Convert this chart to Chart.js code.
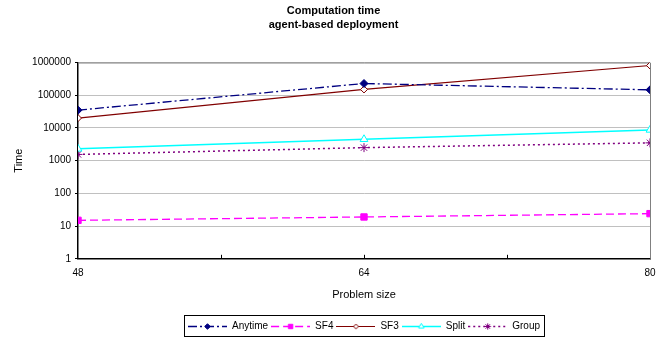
<!DOCTYPE html>
<html>
<head>
<meta charset="utf-8">
<script src="https://cdn.jsdelivr.net/npm/chart.js@4.4.1/dist/chart.umd.min.js"></script>
<style>
  html, body { margin: 0; padding: 0; background: #fff; }
  #wrap { width: 667px; height: 341px; }
</style>
</head>
<body>
<div id="wrap"><canvas id="chart"></canvas></div>
<script>
// chart data
const problemSizes = [48, 64, 80];
const anytimeTimes = [35000, 228000, 146000];
const sf4Times = [15, 19, 24];
const sf3Times = [20000, 150000, 810000];
const splitTimes = [2300, 4500, 8700];
const groupTimes = [1550, 2500, 3500];
const yTickValues = [1, 10, 100, 1000, 10000, 100000, 1000000];
const xTickLabels = [48, 64, 80];
const xMinorTicks = [56, 64, 72];

const FONT = 'Liberation Sans, Arial, sans-serif';
const SWATCH_W = 39;

function points(values) {
  return problemSizes.map((x, i) => ({ x: x, y: values[i] }));
}

// small canvas with line sample + marker for the legend
function legendSwatch(ds) {
  const c = document.createElement('canvas');
  c.width = SWATCH_W;
  c.height = 10;
  const ctx = c.getContext('2d');
  ctx.strokeStyle = ds.borderColor;
  ctx.lineWidth = ds.borderWidth;
  ctx.setLineDash(ds.borderDash || []);
  ctx.beginPath();
  ctx.moveTo(0, 5.5);
  ctx.lineTo(SWATCH_W, 5.5);
  ctx.stroke();
  ctx.setLineDash([]);
  ctx.fillStyle = ds.pointBackgroundColor;
  ctx.strokeStyle = ds.pointBorderColor;
  ctx.lineWidth = 1;
  Chart.helpers.drawPoint(ctx, {
    pointStyle: ds.pointStyle,
    radius: ds.pointRadius * 0.7,
    rotation: 0,
    borderWidth: 1
  }, SWATCH_W / 2, 5.5);
  return c;
}

const plotFrame = {
  id: 'plotFrame',
  beforeDatasetsDraw(chart) {
    const { ctx, chartArea: a, scales } = chart;
    ctx.save();
    // top and right border of plot area
    ctx.strokeStyle = '#808080';
    ctx.lineWidth = 1;
    ctx.beginPath();
    ctx.moveTo(a.left, a.top + 0.5);
    ctx.lineTo(a.right + 0.5, a.top + 0.5);
    ctx.lineTo(a.right + 0.5, a.bottom);
    ctx.stroke();
    // inward tick marks on the x axis
    ctx.strokeStyle = '#000';
    ctx.beginPath();
    xMinorTicks.forEach(v => {
      const px = Math.round(scales.x.getPixelForValue(v)) + 0.5;
      ctx.moveTo(px, a.bottom);
      ctx.lineTo(px, a.bottom - 4);
    });
    ctx.stroke();
    ctx.restore();
  },
  afterDraw(chart) {
    const boxes = chart.legend.legendHitBoxes;
    if (!boxes || !boxes.length) return;
    const ctx = chart.ctx;
    let l = Infinity, r = -Infinity, t = Infinity, b = -Infinity;
    boxes.forEach(h => {
      l = Math.min(l, h.left); r = Math.max(r, h.left + h.width);
      t = Math.min(t, h.top); b = Math.max(b, h.top + h.height);
    });
    ctx.save();
    ctx.strokeStyle = '#000';
    ctx.lineWidth = 1;
    ctx.strokeRect(Math.round(l) - 3.5, Math.round(t) - 5.5, Math.round(r - l) + 8, Math.round(b - t) + 11);
    ctx.restore();
  }
};

const datasets = [
  {
    label: 'Anytime', data: points(anytimeTimes),
    borderColor: '#000080', borderWidth: 1.3, borderDash: [9, 3, 2, 3],
    pointStyle: 'rectRot', pointRadius: 4,
    pointBackgroundColor: '#000080', pointBorderColor: '#000080'
  },
  {
    label: 'SF4', data: points(sf4Times),
    borderColor: '#ff00ff', borderWidth: 1.3, borderDash: [8, 4],
    pointStyle: 'rect', pointRadius: 4.5,
    pointBackgroundColor: '#ff00ff', pointBorderColor: '#ff00ff'
  },
  {
    label: 'SF3', data: points(sf3Times),
    borderColor: '#800000', borderWidth: 1.2,
    pointStyle: 'rectRot', pointRadius: 3.5,
    pointBackgroundColor: '#ffffff', pointBorderColor: '#800000'
  },
  {
    label: 'Split', data: points(splitTimes),
    borderColor: '#00ffff', borderWidth: 1.5,
    pointStyle: 'triangle', pointRadius: 4.5,
    pointBackgroundColor: '#ffffff', pointBorderColor: '#00ffff'
  },
  {
    label: 'Group', data: points(groupTimes),
    borderColor: '#800080', borderWidth: 1.5, borderDash: [2, 3],
    pointStyle: 'star', pointRadius: 4.5,
    pointBackgroundColor: '#800080', pointBorderColor: '#800080'
  }
];

new Chart(document.getElementById('chart'), {
  type: 'line',
  data: { datasets: datasets },
  plugins: [plotFrame],
  options: {
    responsive: true,
    maintainAspectRatio: false,
    animation: false,
    layout: { padding: { left: 17, right: 17, top: 0, bottom: 0 } },
    elements: { line: { tension: 0, fill: false }, point: { pointBorderWidth: 1 } },
    plugins: {
      tooltip: { enabled: false },
      title: {
        display: true,
        text: ['Computation time', 'agent-based deployment'],
        color: '#000',
        font: { family: FONT, size: 11, weight: 'bold', lineHeight: 1.25 },
        padding: { top: 4, bottom: 31 }
      },
      legend: {
        position: 'bottom',
        fullSize: false,
        labels: {
          color: '#000',
          font: { family: FONT, size: 10 },
          usePointStyle: true,
          pointStyleWidth: SWATCH_W,
          boxHeight: 10,
          padding: 3,
          generateLabels(chart) {
            return chart.data.datasets.map((ds, i) => ({
              text: ds.label,
              pointStyle: legendSwatch(ds),
              datasetIndex: i,
              fontColor: '#000',
              lineWidth: 0,
              strokeStyle: 'transparent',
              fillStyle: 'transparent'
            }));
          }
        }
      }
    },
    scales: {
      x: {
        type: 'linear',
        min: 48, max: 80,
        afterBuildTicks(scale) { scale.ticks = xTickLabels.map(v => ({ value: v })); },
        ticks: {
          color: '#000', font: { family: FONT, size: 10 }, padding: 8,
          maxRotation: 0, autoSkip: false
        },
        grid: { display: false, drawTicks: false },
        border: { color: '#000', width: 1.5 },
        title: {
          display: true, text: 'Problem size', color: '#000',
          font: { family: FONT, size: 11 }, padding: { top: 2, bottom: 16 }
        }
      },
      y: {
        type: 'logarithmic',
        min: 1, max: 1000000,
        afterBuildTicks(scale) { scale.ticks = yTickValues.map(v => ({ value: v })); },
        afterFit(scale) { scale.width = 61; },
        ticks: {
          color: '#000', font: { family: FONT, size: 10 }, padding: 4,
          callback: v => String(v)
        },
        grid: { color: '#c0c0c0', tickColor: '#000', tickLength: 3 },
        border: { color: '#000', width: 1.5 },
        title: {
          display: true, text: 'Time', color: '#000',
          font: { family: FONT, size: 11 }, padding: { top: -5, bottom: 4 }
        }
      }
    }
  }
});
</script>
</body>
</html>
